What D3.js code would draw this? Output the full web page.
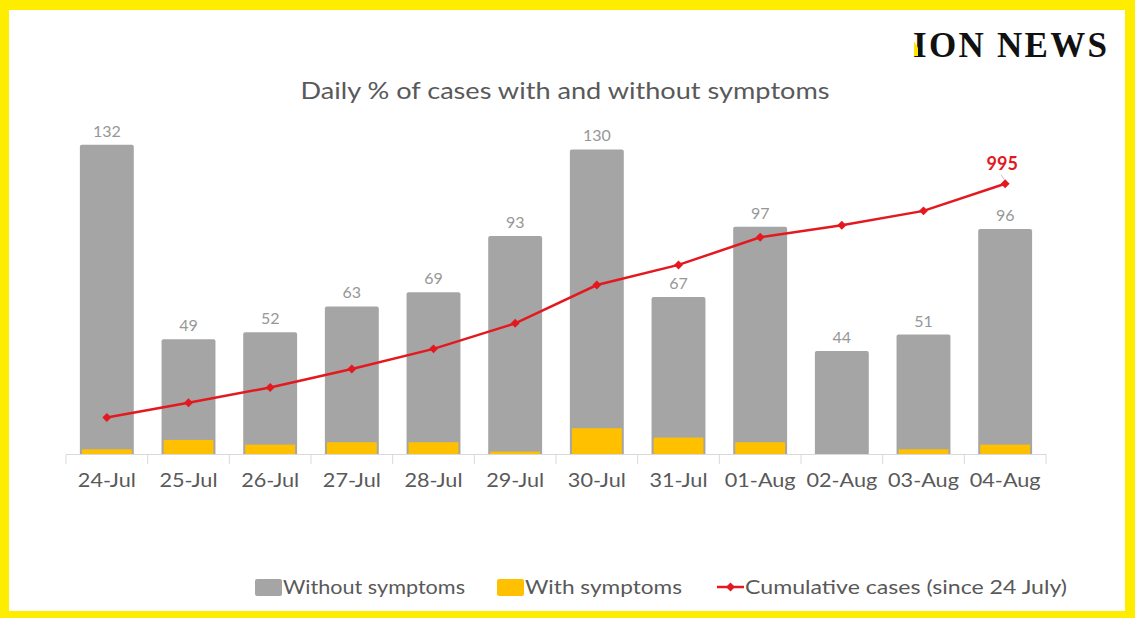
<!DOCTYPE html>
<html>
<head>
<meta charset="utf-8">
<script src="https://cdn.jsdelivr.net/npm/d3@7"></script>
<style>
  body { margin: 0; background: #fff; }
  text { font-family: Lato, "Open Sans", sans-serif; }
</style>
</head>
<body>
<div id="chart"></div>
<script>
// data
var days = ["24-Jul", "25-Jul", "26-Jul", "27-Jul", "28-Jul", "29-Jul",
            "30-Jul", "31-Jul", "01-Aug", "02-Aug", "03-Aug", "04-Aug"];
var withoutSymptoms = [132, 49, 52, 63, 69, 93, 130, 67, 97, 44, 51, 96];
var withSymptoms = [2, 6, 4, 5, 5, 1, 11, 7, 5, 0, 2, 4];
var cumulative = [134, 189, 245, 313, 387, 481, 622, 696, 798, 842, 895, 995];

var W = 1135, H = 618;
var red = "#e3191f", grey = "#a5a5a5", gold = "#ffc000", txt = "#595959";

// the original font is a wide geometric one, so stretch our text a bit
function widen(sel, factor) {
  sel.each(function() {
    var w = this.getComputedTextLength();
    d3.select(this).attr("textLength", w * factor).attr("lengthAdjust", "spacingAndGlyphs");
  });
}

var svg = d3.select("#chart").append("svg")
  .attr("width", W).attr("height", H);

// yellow frame
svg.append("rect").attr("width", W).attr("height", H).attr("fill", "#ffed00");
svg.append("rect").attr("x", 9).attr("y", 10).attr("width", 1116).attr("height", 601).attr("fill", "#fff");

var x = d3.scaleBand().domain(days).range([66, 1046]).paddingInner(0.34).paddingOuter(0.17);
var y = d3.scaleLinear().domain([0, 140]).range([454, 126]);
var y2 = d3.scaleLinear().domain([0, 1200]).range([454, 128]);

// bars (overlapped, not stacked)
svg.selectAll(".bar-grey").data(days).enter().append("path")
  .attr("fill", grey)
  .attr("d", function(d, i) {
    var x0 = x(d), w = x.bandwidth(), t = y(withoutSymptoms[i]), b = y(0), r = 2;
    return "M" + x0 + "," + b + "V" + (t + r) + "Q" + x0 + "," + t + " " + (x0 + r) + "," + t +
      "H" + (x0 + w - r) + "Q" + (x0 + w) + "," + t + " " + (x0 + w) + "," + (t + r) + "V" + b + "Z";
  });

svg.selectAll(".bar-gold").data(days).enter().append("rect")
  .attr("fill", gold)
  .attr("x", function(d) { return x(d) + 2; })
  .attr("width", x.bandwidth() - 4)
  .attr("y", function(d, i) { return y(withSymptoms[i]); })
  .attr("height", function(d, i) { return y(0) - y(withSymptoms[i]); });

// value labels
svg.selectAll(".val").data(days).enter().append("text")
  .attr("x", function(d) { return x(d) + x.bandwidth() / 2; })
  .attr("y", function(d, i) { return y(withoutSymptoms[i]) - 8; })
  .attr("text-anchor", "middle")
  .attr("fill", "#979797")
  .style("font-size", "16px")
  .text(function(d, i) { return withoutSymptoms[i]; });

// x axis
var xAxis = d3.axisBottom(x).tickSize(0).tickPadding(0);
var gx = svg.append("g").attr("transform", "translate(0,454)").call(xAxis);
gx.select(".domain").attr("stroke", "#d9d9d9");
gx.selectAll(".tick text")
  .attr("y", 20)
  .attr("fill", txt)
  .style("font-family", "Lato, sans-serif")
  .style("font-size", "19px")
  .call(widen, 1.14);
// tick marks between categories
var edges = days.map(function(d) { return x(d) - x.step() * 0.17; }).concat([x.range()[1]]);
gx.selectAll(".sep").data(edges).enter().append("line")
  .attr("x1", function(d) { return d; }).attr("x2", function(d) { return d; })
  .attr("y1", 0).attr("y2", 10)
  .attr("stroke", "#d9d9d9");

// cumulative line
var line = d3.line()
  .x(function(d, i) { return x(days[i]) + x.bandwidth() / 2; })
  .y(function(d) { return y2(d); });
svg.append("path").datum(cumulative)
  .attr("d", line)
  .attr("fill", "none")
  .attr("stroke", red)
  .attr("stroke-width", 2.5);

// square markers turned 45 degrees
var diamond = d3.symbol().type(d3.symbolSquare).size(40);
svg.selectAll(".pt").data(cumulative).enter().append("path")
  .attr("d", diamond)
  .attr("fill", red)
  .attr("transform", function(d, i) {
    return "translate(" + (x(days[i]) + x.bandwidth() / 2) + "," + y2(d) + ") rotate(45)";
  });

// last value label
var li = cumulative.length - 1, lx = x(days[li]) + x.bandwidth() / 2, ly = y2(cumulative[li]);
svg.append("line")
  .attr("x1", lx - 4).attr("y1", ly - 9).attr("x2", lx - 1).attr("y2", ly - 4)
  .attr("stroke", "#bfbfbf").attr("stroke-width", 1);
svg.append("text")
  .attr("x", lx - 3).attr("y", ly - 14)
  .attr("text-anchor", "middle")
  .attr("fill", red)
  .style("font-size", "18px").style("font-weight", "bold")
  .text(cumulative[li]);

// title
svg.append("text")
  .attr("x", 565).attr("y", 99)
  .attr("text-anchor", "middle")
  .attr("fill", txt)
  .style("font-size", "23px")
  .attr("textLength", 529).attr("lengthAdjust", "spacingAndGlyphs")
  .text("Daily % of cases with and without symptoms");

// logo
svg.append("text")
  .attr("x", 913).attr("y", 57)
  .attr("fill", "#111")
  .style("font-family", "'Liberation Serif', 'DejaVu Serif', serif")
  .style("font-weight", "bold")
  .style("font-size", "35px")
  .attr("textLength", 194)
  .text("ION NEWS");
svg.append("path")
  .attr("d", "M914,41 L918,48 L918,56 L914,56 Z")
  .attr("fill", "#ffe600");

// legend
var legend = [
  { label: "Without symptoms", x: 255, width: 182, kind: "box", color: grey },
  { label: "With symptoms", x: 497, width: 157, kind: "box", color: gold },
  { label: "Cumulative cases (since 24 July)", x: 717, width: 322, kind: "line", color: red }
];
var lg = svg.selectAll(".lg").data(legend).enter().append("g")
  .attr("transform", function(d) { return "translate(" + d.x + ",587)"; });
lg.filter(function(d) { return d.kind == "box"; }).append("rect")
  .attr("x", 0).attr("y", -8).attr("width", 27).attr("height", 17).attr("rx", 2)
  .attr("fill", function(d) { return d.color; });
lg.filter(function(d) { return d.kind == "line"; }).append("line")
  .attr("x1", 0).attr("x2", 27).attr("y1", 0).attr("y2", 0)
  .attr("stroke", red).attr("stroke-width", 2.5);
lg.filter(function(d) { return d.kind == "line"; }).append("path")
  .attr("d", diamond).attr("fill", red).attr("transform", "translate(13.5,0) rotate(45)");
lg.append("text")
  .attr("x", 28).attr("y", 7)
  .attr("fill", txt)
  .style("font-size", "19px")
  .attr("textLength", function(d) { return d.width; })
  .attr("lengthAdjust", "spacingAndGlyphs")
  .text(function(d) { return d.label; });
</script>
</body>
</html>
